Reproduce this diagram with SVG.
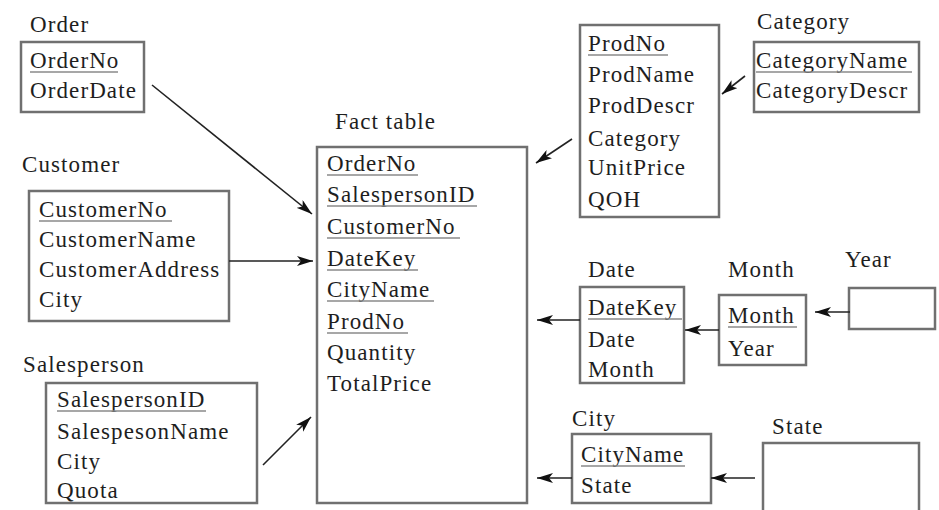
<svg xmlns="http://www.w3.org/2000/svg" width="939" height="510" viewBox="0 0 939 510">
  <style>
    text { font-family: 'Liberation Serif', 'DejaVu Serif', serif; font-size: 23px; letter-spacing: 1.1px; fill: #1e1e1e; }
    .box { fill: #ffffff; stroke: #707070; stroke-width: 2.5; }
    .key { stroke: #8a8a8a; stroke-width: 1.5; }
    .conn { stroke: #222; stroke-width: 1.6; fill: none; marker-end: url(#head); }
  </style>
  <defs>
    <marker id="head" viewBox="0 0 16 10" refX="16" refY="5" markerWidth="16" markerHeight="10" markerUnits="userSpaceOnUse" orient="auto">
      <path d="M0,0 L16,5 L0,10 L4,5 Z" fill="#111"/>
    </marker>
  </defs>
  <rect width="939" height="510" fill="#ffffff"/>

  <g font-family="Liberation Serif, serif">
  <!-- Order dimension -->
  <g id="order">
    <text x="30" y="32">Order</text>
    <rect class="box" x="21" y="42" width="123" height="70"/>
    <text x="30" y="68">OrderNo</text>
    <line class="key" x1="30" y1="72" x2="118" y2="72"/>
    <text x="30" y="98">OrderDate</text>
  </g>

  <!-- Customer dimension -->
  <g id="customer">
    <text x="22" y="172">Customer</text>
    <rect class="box" x="29" y="191" width="200" height="130"/>
    <text x="39" y="217">CustomerNo</text>
    <line class="key" x1="39" y1="221" x2="172" y2="221"/>
    <text x="39" y="247">CustomerName</text>
    <text x="39" y="277">CustomerAddress</text>
    <text x="39" y="307">City</text>
  </g>

  <!-- Salesperson dimension -->
  <g id="salesperson">
    <text x="23" y="372">Salesperson</text>
    <rect class="box" x="46" y="383" width="211" height="120"/>
    <text x="57" y="407">SalespersonID</text>
    <line class="key" x1="57" y1="411" x2="206" y2="411"/>
    <text x="57" y="439">SalespesonName</text>
    <text x="57" y="469">City</text>
    <text x="57" y="498">Quota</text>
  </g>

  <!-- Fact table -->
  <g id="fact">
    <text x="335" y="129">Fact table</text>
    <rect class="box" x="317" y="147" width="210" height="356"/>
    <text x="327" y="171">OrderNo</text>
    <line class="key" x1="327" y1="175" x2="418" y2="175"/>
    <text x="327" y="202">SalespersonID</text>
    <line class="key" x1="327" y1="206" x2="477" y2="206"/>
    <text x="327" y="234">CustomerNo</text>
    <line class="key" x1="327" y1="238" x2="460" y2="238"/>
    <text x="327" y="266">DateKey</text>
    <line class="key" x1="327" y1="270" x2="418" y2="270"/>
    <text x="327" y="297">CityName</text>
    <line class="key" x1="327" y1="301" x2="434" y2="301"/>
    <text x="327" y="329">ProdNo</text>
    <line class="key" x1="327" y1="333" x2="408" y2="333"/>
    <text x="327" y="360">Quantity</text>
    <text x="327" y="391">TotalPrice</text>
  </g>

  <!-- Product dimension -->
  <g id="product">
    <rect class="box" x="580" y="25" width="139" height="192"/>
    <text x="588" y="51">ProdNo</text>
    <line class="key" x1="588" y1="55" x2="668" y2="55"/>
    <text x="588" y="82">ProdName</text>
    <text x="588" y="113">ProdDescr</text>
    <text x="588" y="146">Category</text>
    <text x="588" y="175">UnitPrice</text>
    <text x="588" y="207">QOH</text>
  </g>

  <!-- Category -->
  <g id="category">
    <text x="757" y="29">Category</text>
    <rect class="box" x="754" y="42" width="165" height="70"/>
    <text x="756" y="68">CategoryName</text>
    <line class="key" x1="756" y1="72" x2="912" y2="72"/>
    <text x="756" y="98">CategoryDescr</text>
  </g>

  <!-- Date dimension -->
  <g id="date">
    <text x="588" y="277">Date</text>
    <rect class="box" x="580" y="287" width="104" height="96"/>
    <text x="588" y="315">DateKey</text>
    <line class="key" x1="588" y1="319" x2="682" y2="319"/>
    <text x="588" y="347">Date</text>
    <text x="588" y="377">Month</text>
  </g>

  <!-- Month -->
  <g id="month">
    <text x="728" y="277">Month</text>
    <rect class="box" x="719" y="295" width="87" height="70"/>
    <text x="728" y="323">Month</text>
    <line class="key" x1="728" y1="327" x2="797" y2="327"/>
    <text x="728" y="356">Year</text>
  </g>

  <!-- Year -->
  <g id="year">
    <text x="845" y="267">Year</text>
    <rect class="box" x="849" y="288" width="86" height="41"/>
  </g>

  <!-- City dimension -->
  <g id="city">
    <text x="572" y="426">City</text>
    <rect class="box" x="572" y="434" width="139" height="69"/>
    <text x="581" y="462">CityName</text>
    <line class="key" x1="581" y1="466" x2="685" y2="466"/>
    <text x="581" y="493">State</text>
  </g>

  <!-- State -->
  <g id="state">
    <text x="772" y="434">State</text>
    <rect class="box" x="763" y="443" width="156" height="75"/>
  </g>
  </g>

  <!-- Connectors -->
  <g id="connectors">
    <line class="conn" x1="152" y1="85" x2="312" y2="214"/>
    <line class="conn" x1="229" y1="261" x2="313" y2="261"/>
    <line class="conn" x1="263" y1="465" x2="311" y2="417"/>
    <line class="conn" x1="572" y1="139" x2="536" y2="163"/>
    <line class="conn" x1="745" y1="76" x2="722" y2="94"/>
    <line class="conn" x1="580" y1="320" x2="537" y2="320"/>
    <line class="conn" x1="719" y1="330" x2="685" y2="330"/>
    <line class="conn" x1="850" y1="312" x2="815" y2="312"/>
    <line class="conn" x1="572" y1="478" x2="537" y2="478"/>
    <line class="conn" x1="755" y1="478" x2="711" y2="478"/>
  </g>
</svg>
